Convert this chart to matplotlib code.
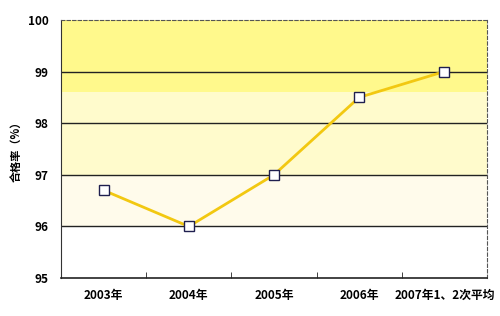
import matplotlib.pyplot as plt

plt.rcParams['font.family'] = ['Noto Sans CJK SC', 'DejaVu Sans']

years = ['2003年', '2004年', '2005年', '2006年', '2007年1、2次平均']
rate = [96.7, 96.0, 97.0, 98.5, 99.0]

fig = plt.figure(figsize=(5, 3.16), dpi=100)
ax = fig.add_axes([0.122, 0.120, 0.852, 0.817])

# background bands
ax.axhspan(98.6, 100, color='#FFF98C', zorder=0, lw=0)
ax.axhspan(97, 98.6, color='#FFFBCC', zorder=0, lw=0)
ax.axhspan(96, 97, color='#FFFBEB', zorder=0, lw=0)

for y in [96, 97, 98, 99]:
    ax.axhline(y, color='#222222', lw=1, zorder=1)

x = range(len(years))
ax.plot(x, rate, color='#F2C811', lw=2, marker='s', ms=7,
        mfc='white', mec='#1F1F4F', mew=1, zorder=3)

ax.set_xlim(-0.5, len(years) - 0.5)
ax.set_ylim(95, 100)
ax.set_yticks([95, 96, 97, 98, 99, 100])
ax.set_xticks(list(x))
ax.set_xticklabels(years)
ax.set_xticks([i + 0.5 for i in range(len(years) - 1)], minor=True)
ax.tick_params(axis='x', which='major', length=0, pad=8)
ax.tick_params(axis='x', which='minor', length=4, direction='in', color='#222222')
ax.tick_params(axis='y', length=0, pad=9)
for lab in ax.get_xticklabels() + ax.get_yticklabels():
    lab.set_fontsize(8.5)
    lab.set_fontweight('bold')

ax.set_ylabel('合格率（%）', fontsize=8, fontweight='bold', labelpad=4)

ax.spines['left'].set_color('#333333')
ax.spines['bottom'].set_color('#222222')
ax.spines['bottom'].set_linewidth(1.2)
for s in ['top', 'right']:
    ax.spines[s].set_linestyle((0, (3, 2)))
    ax.spines[s].set_color('#555555')
    ax.spines[s].set_linewidth(0.8)

fig.savefig('out.png', dpi=100)
